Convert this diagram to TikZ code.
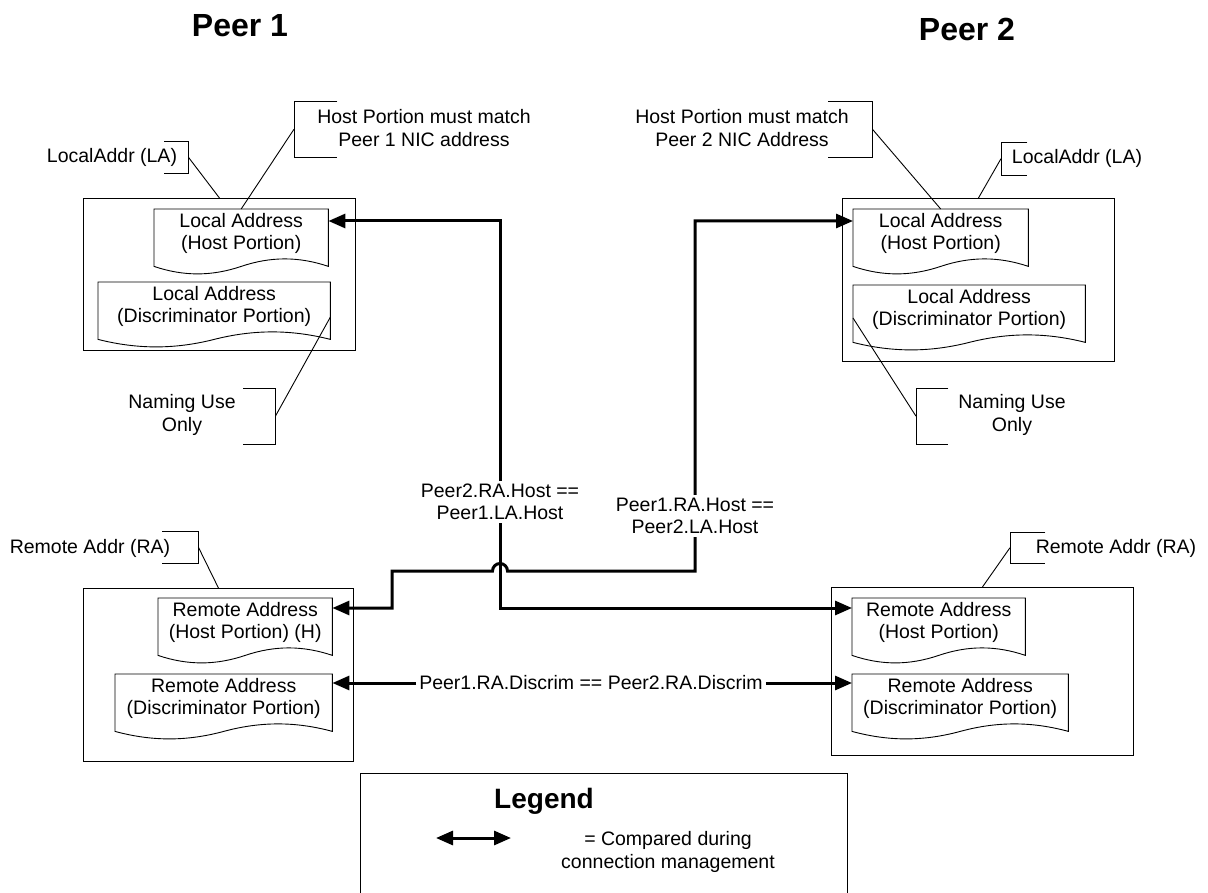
\documentclass[tikz,border=0pt]{standalone}
\usepackage{fontspec}
\setmainfont{Liberation Sans}
\usetikzlibrary{arrows.meta,calc}

% document symbol: straight top and sides, wavy bottom edge below the node
\newcommand\docoutline[1]{%
  \draw[leader] let \p1=(#1.north west), \p2=(#1.south east),
        \n1={\y2-8pt}, \n2={\x2-\x1} in
    (\x1,\n1) -- (\x1,\y1) -- (\x2,\y1) -- (\x2,\n1)
    .. controls (\x2-0.17*\n2,\n1+10pt) and (\x2-0.33*\n2,\n1+10pt) .. (\x1+0.5*\n2,\n1)
    .. controls (\x1+0.33*\n2,\n1-10pt) and (\x1+0.17*\n2,\n1-10pt) .. (\x1,\n1) -- cycle;}
% callout brackets: "]" opens to the left, "[" opens to the right
\newcommand\closebr[1]{\draw[leader] (#1.north west) -- (#1.north east) -- (#1.south east) -- (#1.south west);}
\newcommand\openbr[1]{\draw[leader] (#1.north east) -- (#1.north west) -- (#1.south west) -- (#1.south east);}

\begin{document}
\begin{tikzpicture}[x=1pt,y=-1pt,
  txt/.style={font=\fontsize{19.5}{22.5}\selectfont, align=center, inner sep=0pt},
  ttl/.style={font=\fontsize{32}{36}\selectfont\bfseries, inner sep=0pt, anchor=base},
  outerbox/.style={draw, line width=0.9pt, rectangle, inner sep=0pt, anchor=north west},
  doc/.style={txt, rectangle, anchor=north west, minimum height=49pt},
  brk/.style={rectangle, inner sep=0pt, anchor=north west},
  leader/.style={line width=0.9pt},
  conn/.style={line width=3pt},
  eqlabel/.style={txt, fill=white, inner xsep=3pt, inner ysep=3pt},
  >={Triangle[length=17pt,width=14pt]}]
\useasboundingbox (0,0) rectangle (1208,893);

% titles
\node[ttl] (peer1) at (240,37) {Peer 1};
\node[ttl] (peer2) at (967,41) {Peer 2};

% address containers
\node[outerbox, minimum width=272pt, minimum height=152pt] (lbox1) at (83,198) {};
\node[outerbox, minimum width=272pt, minimum height=163pt] (lbox2) at (842,198) {};
\node[outerbox, minimum width=270pt, minimum height=173pt] (rbox1) at (83,588) {};
\node[outerbox, minimum width=302pt, minimum height=168pt] (rbox2) at (831,587) {};

% address portions
\node[doc, minimum width=174pt] (lh1) at (154,209) {Local Address\\(Host Portion)};
\node[doc, minimum width=232pt] (ld1) at (98,282) {Local Address\\(Discriminator Portion)};
\node[doc, minimum width=175pt] (lh2) at (853,209) {Local Address\\(Host Portion)};
\node[doc, minimum width=232pt] (ld2) at (853,285) {Local Address\\(Discriminator Portion)};
\node[doc, minimum width=174pt] (rh1) at (158,598) {Remote Address\\(Host Portion) (H)};
\node[doc, minimum width=217pt] (rd1) at (115,674) {Remote Address\\(Discriminator Portion)};
\node[doc, minimum width=173pt] (rh2) at (852,598) {Remote Address\\(Host Portion)};
\node[doc, minimum width=216pt] (rd2) at (852,674) {Remote Address\\(Discriminator Portion)};
\foreach \d in {lh1,ld1,lh2,ld2,rh1,rd1,rh2,rd2} {\docoutline{\d}}

% callout texts
\node[txt] (tLAl) at (112,157) {LocalAddr (LA)};
\node[txt] (tLAr) at (1077,158) {LocalAddr (LA)};
\node[txt] (tHPl) at (424,128) {Host Portion must match\\Peer 1 NIC address};
\node[txt] (tHPr) at (742,128) {Host Portion must match\\Peer 2 NIC Address};
\node[txt] (tNUl) at (182,415) {Naming Use\\Only};
\node[txt] (tNUr) at (1012,415) {Naming Use\\Only};
\node[txt] (tRAl) at (90,548) {Remote Addr (RA)};
\node[txt] (tRAr) at (1116,548) {Remote Addr (RA)};

% callout brackets
\node[brk, minimum width=24pt, minimum height=32pt] (bLAl) at (164,141) {};
\node[brk, minimum width=26pt, minimum height=33pt] (bLAr) at (1001,142) {};
\node[brk, minimum width=43pt, minimum height=56pt] (bHPl) at (294,101) {};
\node[brk, minimum width=44pt, minimum height=56pt] (bHPr) at (828,101) {};
\node[brk, minimum width=32pt, minimum height=56pt] (bNUl) at (243,388) {};
\node[brk, minimum width=32pt, minimum height=56pt] (bNUr) at (916,388) {};
\node[brk, minimum width=36pt, minimum height=32pt] (bRAl) at (162,531) {};
\node[brk, minimum width=35pt, minimum height=31pt] (bRAr) at (1010,532) {};
\closebr{bLAl} \openbr{bLAr}
\openbr{bHPl}  \closebr{bHPr}
\closebr{bNUl} \openbr{bNUr}
\closebr{bRAl} \openbr{bRAr}

% callout leaders
\draw[leader] (bLAl.east) -- (lbox1.north);
\draw[leader] (bLAr.west) -- (lbox2.north);
\draw[leader] (bHPl.west) -- (lh1.north);
\draw[leader] (bHPr.east) -- (lh2.north);
\draw[leader] (bNUl.east) -- ($(ld1.north east)+(0,35)$);
\draw[leader] (bNUr.west) -- ($(ld2.north west)+(0,33)$);
\draw[leader] (bRAl.east) -- (rbox1.north);
\draw[leader] (bRAr.west) -- (rbox2.north);

% comparison connectors
\coordinate (pA1) at ($(lh1.north east)+(0,12)$);
\coordinate (pA2) at ($(rh2.north west)+(0,10)$);
\coordinate (pB1) at ($(lh2.north west)+(0,12)$);
\coordinate (pB2) at ($(rh1.north east)+(0,10)$);
\coordinate (xa) at (500,0);
\coordinate (xb) at (695,0);
\coordinate (xc) at (392,0);
\coordinate (hop) at (500,571);

\draw[conn,<->] (pA1) -- (xa |- pA1) -- (xa |- pA2) -- (pA2);
\draw[conn,<->] (pB1) -- (xb |- pB1) -- (xb |- hop) -- ($(hop)+(7.5,0)$)
  arc[start angle=0, end angle=180, radius=7.5pt] -- (xc |- hop) -- (xc |- pB2) -- (pB2);
\node[eqlabel] (lA) at (500,502) {Peer2.RA.Host ==\\Peer1.LA.Host};
\node[eqlabel] (lB) at (695,516) {Peer1.RA.Host ==\\Peer2.LA.Host};

\node[txt] (lD) at (591,683) {Peer1.RA.Discrim == Peer2.RA.Discrim};
\draw[conn,->] ([xshift=-3pt]lD.west) -- ($(rd1.north east)+(0,9)$);
\draw[conn,->] ([xshift=3pt]lD.east) -- ($(rd2.north west)+(0,9)$);

% legend
\draw[leader] (360,893) -- (360,773) -- (847,773) -- (847,893);
\node[font=\fontsize{28}{32}\selectfont\bfseries, anchor=base, inner sep=0pt] (legtitle) at (544,808) {Legend};
\coordinate (la) at (436,838);
\coordinate (lb) at (511,838);
\draw[conn,<->] (la) -- (lb);
\node[txt] (legtext) at (668,852) {= Compared during\\connection management};
\end{tikzpicture}
\end{document}
